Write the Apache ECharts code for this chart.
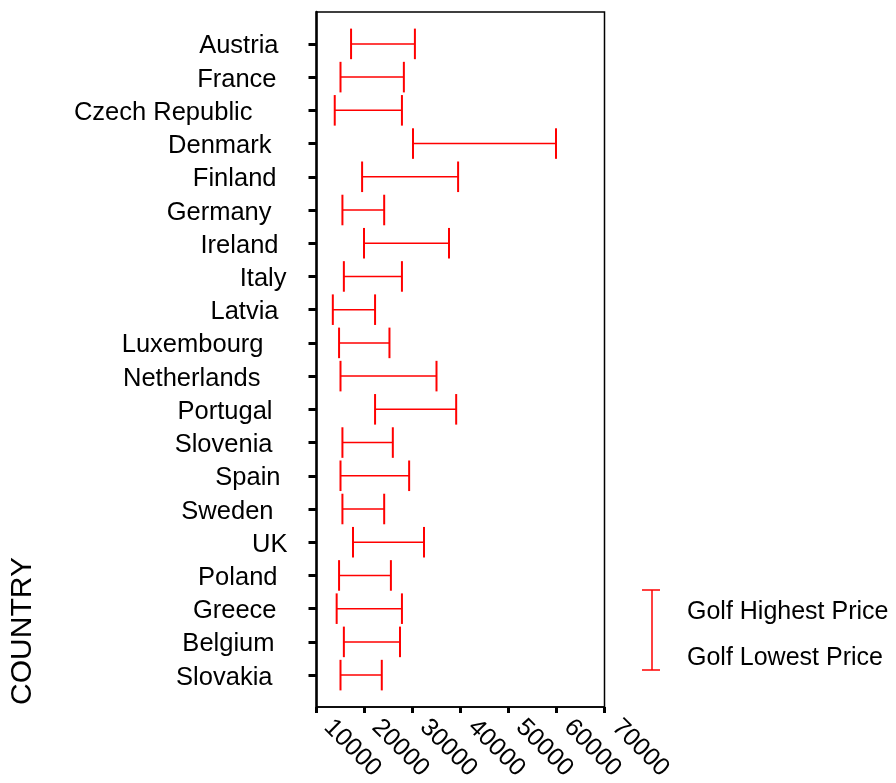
<!DOCTYPE html>
<html>
<head>
<meta charset="utf-8">
<script src="https://cdn.jsdelivr.net/npm/echarts@6/dist/echarts.min.js"></script>
<style>
  html, body { margin: 0; padding: 0; background: #fff; }
  #main { width: 896px; height: 783px; }
</style>
</head>
<body>
<div id="main"></div>
<script>
var countries = ['Austria', 'France', 'Czech Republic', 'Denmark', 'Finland', 'Germany', 'Ireland',
  'Italy', 'Latvia', 'Luxembourg', 'Netherlands', 'Portugal', 'Slovenia', 'Spain', 'Sweden', 'UK',
  'Poland', 'Greece', 'Belgium', 'Slovakia'];
var lowPrice = [17200, 15000, 13800, 30100, 19500, 15400, 19900, 15700, 13400, 14700,
  15000, 22200, 15400, 15000, 15400, 17600, 14700, 14200, 15700, 15000];
var highPrice = [30500, 28200, 27800, 59900, 39500, 24100, 37600, 27800, 22200, 25200,
  35000, 39100, 25900, 29300, 24100, 32400, 25500, 27800, 27400, 23600];
// trailing blank after each label (px), as in the original padded strings
var labelPad = [10, 12, 36, 17, 12, 17, 10, 2, 10, 25, 28, 16, 16, 8, 15, 1, 11, 12, 14, 16];

var FONT = '"Liberation Sans", Arial, sans-serif';
var RED = '#ff0000';

var chart = echarts.init(document.getElementById('main'));

var idx = countries.map(function (c, i) { return i; });
var barData = countries.map(function (c, i) { return [i, lowPrice[i], highPrice[i]]; });

var rich = {};
labelPad.forEach(function (p) { rich['p' + p] = { width: p }; });

chart.setOption({
  backgroundColor: '#fff',
  animation: false,
  grid: {
    left: 316.5, right: 291.5, top: 12, bottom: 76,
    outerBoundsMode: 'none', containLabel: false,
    show: true, borderColor: '#000', borderWidth: 1.5
  },
  xAxis: {
    type: 'value',
    min: 10000, max: 70000, interval: 10000,
    axisLine: { show: true, onZero: false, lineStyle: { color: '#000', width: 1.5 } },
    axisTick: { show: true, length: 6, lineStyle: { color: '#000', width: 3 } },
    splitLine: { show: false },
    axisLabel: {
      rotate: -45, margin: 5, color: '#000', fontSize: 25, fontFamily: FONT,
      padding: [0, 0, 0, 16],
      formatter: function (v) { return String(v); }
    }
  },
  yAxis: {
    type: 'value',
    inverse: true,
    min: -0.96, max: 19.96,
    axisLine: { show: true, onZero: false, lineStyle: { color: '#000', width: 2.5 } },
    axisTick: { show: true, customValues: idx, length: 8, lineStyle: { color: '#000', width: 3 } },
    splitLine: { show: false },
    axisLabel: {
      customValues: idx,
      margin: 28,
      padding: [5, 0, 0, 0],
      color: '#000', fontSize: 25.5, fontFamily: FONT,
      formatter: function (v) {
        var i = Math.round(v);
        return countries[i] + '{p' + labelPad[i] + '| }';
      },
      rich: rich
    }
  },
  graphic: [
    {
      type: 'text', x: 23, y: 631, rotation: Math.PI / 2,
      style: { text: 'COUNTRY', fontSize: 30, fontFamily: FONT, fill: '#000', align: 'center', verticalAlign: 'middle' }
    },
    { type: 'line', shape: { x1: 652, y1: 590, x2: 652, y2: 670 }, style: { stroke: RED, lineWidth: 1.5 } },
    { type: 'line', shape: { x1: 642, y1: 590, x2: 660, y2: 590 }, style: { stroke: RED, lineWidth: 1.5 } },
    { type: 'line', shape: { x1: 642, y1: 670, x2: 660, y2: 670 }, style: { stroke: RED, lineWidth: 1.5 } },
    {
      type: 'text', x: 687, y: 612,
      style: { text: 'Golf Highest Price', fontSize: 25, fontFamily: FONT, fill: '#000', verticalAlign: 'middle' }
    },
    {
      type: 'text', x: 687, y: 658,
      style: { text: 'Golf Lowest Price', fontSize: 25, fontFamily: FONT, fill: '#000', verticalAlign: 'middle' }
    }
  ],
  series: [{
    type: 'custom',
    name: 'Golf Price',
    data: barData,
    renderItem: function (params, api) {
      var lo = api.coord([api.value(1), api.value(0)]);
      var hi = api.coord([api.value(2), api.value(0)]);
      var half = api.size([0, 1])[1] * 0.46;
      return {
        type: 'group',
        children: [
          { type: 'line', shape: { x1: lo[0], y1: lo[1], x2: hi[0], y2: hi[1] }, style: { stroke: RED, lineWidth: 1.5 } },
          { type: 'line', shape: { x1: lo[0], y1: lo[1] - half, x2: lo[0], y2: lo[1] + half }, style: { stroke: RED, lineWidth: 2 } },
          { type: 'line', shape: { x1: hi[0], y1: hi[1] - half, x2: hi[0], y2: hi[1] + half }, style: { stroke: RED, lineWidth: 2 } }
        ]
      };
    }
  }]
});

window.addEventListener('resize', function () {
  chart.resize();
});
</script>
</body>
</html>
